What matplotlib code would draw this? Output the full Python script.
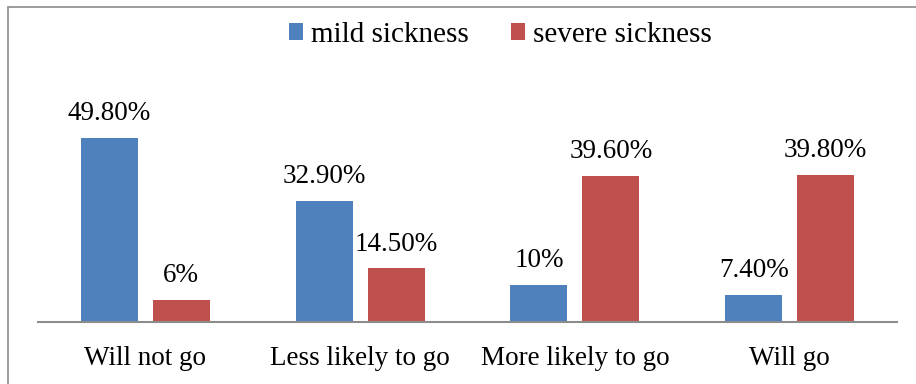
import matplotlib
matplotlib.use("Agg")
import matplotlib.pyplot as plt
from matplotlib.patches import Rectangle
import numpy as np

categories = ["Will not go", "Less likely to go", "More likely to go", "Will go"]
mild = [49.8, 32.9, 10, 7.4]
severe = [6, 14.5, 39.6, 39.8]
mild_labels = ["49.80%", "32.90%", "10%", "7.40%"]
severe_labels = ["6%", "14.50%", "39.60%", "39.80%"]

plt.rcParams["font.family"] = ["Liberation Serif", "DejaVu Serif"]

W, H = 916, 384
fig = plt.figure(figsize=(W / 100, H / 100), dpi=100)

# outer chart border (only left/top visible in reference)
fig.patches.append(Rectangle((8 / W, -0.05), 1.1, 1 - 7 / H + 0.05,
                             transform=fig.transFigure, fill=False,
                             edgecolor="#8c8c8c", linewidth=1.2))

ax = fig.add_axes([38 / W, (H - 322) / H, (897 - 38) / W, 221.4 / H])
x = np.arange(len(categories))
bw = 0.265
gap = 0.07
b1 = ax.bar(x - (bw + gap) / 2, mild, bw, color="#4F81BD", label="mild sickness")
b2 = ax.bar(x + (bw + gap) / 2, severe, bw, color="#C0504D", label="severe sickness")

for bars, labels in ((b1, mild_labels), (b2, severe_labels)):
    for b, t in zip(bars, labels):
        ax.annotate(t, (b.get_x() + b.get_width() / 2, b.get_height()),
                    xytext=(0, 8.5), textcoords="offset points",
                    ha="center", va="bottom", fontsize=19.5)

ax.set_xlim(-0.5, len(categories) - 0.5)
ax.set_ylim(0, 60)
ax.set_xticks(x)
ax.set_xticklabels(categories, fontsize=19.5)
ax.tick_params(axis="x", length=0, pad=17)
ax.set_yticks([])
for s in ("top", "right", "left"):
    ax.spines[s].set_visible(False)
ax.spines["bottom"].set_color("#8c8c8c")
ax.spines["bottom"].set_linewidth(1.5)

fig.legend(handles=[b1, b2], loc="center", bbox_to_anchor=(500 / W, 1 - 35 / H),
           ncol=2, frameon=False, fontsize=21, handlelength=0.5, handleheight=0.5,
           handletextpad=0.25, columnspacing=1.45)

fig.savefig("out.png", dpi=100)
